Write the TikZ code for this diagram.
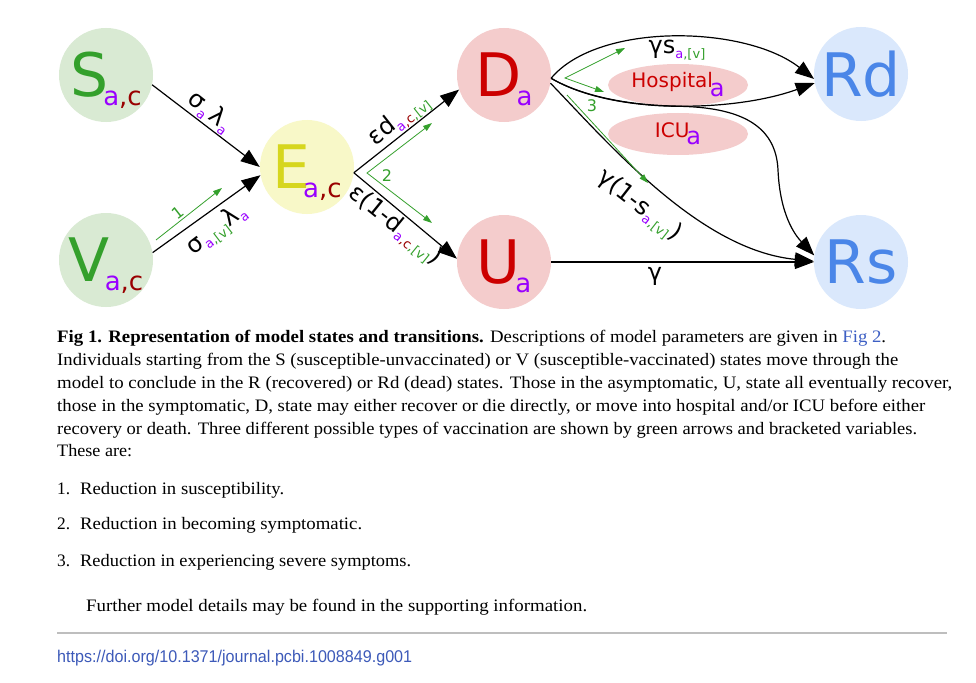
\documentclass[tikz,border=0pt]{standalone}
\usepackage{fontspec}
\usepackage{graphicx}
\usetikzlibrary{arrows.meta,shapes.geometric}
\setmainfont{Liberation Serif}
\newfontfamily\dejavu{DejaVu Sans}
\newfontfamily\doifont{Liberation Sans}
\definecolor{sfill}{RGB}{217,234,211}
\definecolor{sgreen}{RGB}{52,160,44}
\definecolor{efill}{RGB}{248,248,200}
\definecolor{eyellow}{RGB}{214,214,30}
\definecolor{dfill}{RGB}{244,204,204}
\definecolor{dred}{RGB}{204,0,0}
\definecolor{rfill}{RGB}{218,232,252}
\definecolor{rblue}{RGB}{74,134,232}
\definecolor{subpurple}{RGB}{153,0,255}
\definecolor{subred}{RGB}{153,0,0}
\definecolor{vgreen}{RGB}{52,160,44}
\definecolor{linkblue}{RGB}{61,95,196}
\definecolor{doiblue}{RGB}{61,90,185}
\definecolor{rulegray}{RGB}{190,190,190}
\newcommand{\stlet}[1]{{\fontsize{60}{60}\selectfont #1}}
\newcommand{\stsub}[1]{\kern-5pt\smash{\raisebox{-9pt}{\fontsize{26}{26}\selectfont #1}}}
\newcommand{\ls}[1]{\raisebox{-5pt}{\fontsize{13}{13}\selectfont #1}}
\newcommand{\pa}{\textcolor{subpurple}{a}}
\newcommand{\pc}{\textcolor{subred}{,c}}
\newcommand{\gv}{\textcolor{vgreen}{,[v]}}
\begin{document}
\begin{tikzpicture}[x=1pt,y=-1pt,
  state/.style={circle, minimum size=94pt, inner sep=0pt, font=\dejavu},
  ell/.style={ellipse, minimum width=140pt, minimum height=42pt, inner sep=0pt, fill=dfill, text=dred, font=\dejavu\fontsize{20}{20}\selectfont},
  flow/.style={draw=black, line width=1.2pt, -{Triangle[length=19pt,width=14pt]}},
  vacc/.style={draw=vgreen, line width=0.8pt, -{Triangle[length=9pt,width=6pt]}},
  vacctwo/.style={draw=vgreen, line width=0.8pt, {Triangle[length=9pt,width=6pt]}-{Triangle[length=9pt,width=6pt]}},
  lab/.style={font=\dejavu\fontsize{24}{24}\selectfont, inner sep=0pt},
  glab/.style={font=\dejavu\fontsize{16}{16}\selectfont, text=vgreen, inner sep=0pt},
  captext/.style={anchor=base west, inner sep=0pt, font=\fontsize{17.5}{17.5}\selectfont}]
\useasboundingbox[fill=white] (0,0) rectangle (976,682);

% states
\node[state, fill=sfill, text=sgreen] (S) at (106,75) {\stlet{S}\stsub{\pa\pc}};
\node[state, fill=sfill, text=sgreen] (V) at (106,260) {\stlet{V}\stsub{\pa\pc}};
\node[state, fill=efill, text=eyellow] (E) at (307,167) {\stlet{E}\kern-2pt\stsub{\pa\pc}};
\node[state, fill=dfill, text=dred] (D) at (504,75) {\stlet{D}\stsub{\pa}};
\node[state, fill=dfill, text=dred] (U) at (504,262) {\stlet{U}\stsub{\pa}};
\node[state, fill=rfill, text=rblue] (Rd) at (861,74) {\stlet{Rd}};
\node[state, fill=rfill, text=rblue] (Rs) at (861,262) {\stlet{Rs}};
\node[ell] (hosp) at (678,85) {Hospital\kern-3pt\raisebox{-9pt}{\textcolor{subpurple}{\fontsize{24}{24}\selectfont a}}};
\node[ell] (icu) at (678,134) {ICU\kern-3pt\raisebox{-7pt}{\textcolor{subpurple}{\fontsize{24}{24}\selectfont a}}};

% flows
\draw[flow] (S.-12) -- (E.180);
\draw[flow] (V.9) -- (E.190);
\draw[flow] (E.-7) -- (D.198);
\draw[flow] (E.-7) -- (U.176);
\draw[flow] (D.-4) .. controls (598,22) and (745,25) .. (Rd.186);
\draw[flow] (D.-4) .. controls (615,115) and (735,112) .. (Rd.191);
\draw[flow] (D.-4) .. controls (582,96.5) and (628.5,105.75) .. (676.75,106.25)
  .. controls (740,107) and (776,125) .. (778,170)
  .. controls (780,215) and (795,235) .. (Rs.172);
\draw[flow] (D.-10) .. controls (610,145) and (700,250) .. (Rs.179);
\draw[flow] (U.east) -- (Rs.west);

% vaccination arrows
\coordinate (g1s) at (156,240);
\coordinate (g1e) at (222,188);
\coordinate (g2a) at (432,123);
\coordinate (g2m) at (367,173);
\coordinate (g2b) at (432,223);
\coordinate (gda) at (625,48);
\coordinate (gdm) at (565,78);
\coordinate (gdb) at (604,92);
\coordinate (g3s) at (567,95);
\coordinate (g3e) at (648,183);
\draw[vacc] (g1s) -- (g1e);
\draw[vacctwo] (g2a) -- (g2m) -- (g2b);
\draw[vacctwo] (gda) -- (gdm) -- (gdb);
\draw[vacc] (g3s) -- (g3e);
\node[glab, rotate=38] (n1) at (178,213) {1};
\node[glab] (n2) at (387,176) {2};
\node[glab] (n3) at (592,106) {3};

% flow labels
\node[lab, rotate=-38.7] (lSE) at (210,112) {σ\ls{\pa}\,λ\ls{\pa}};
\node[lab, rotate=37.4] (lVE) at (217,230) {σ\ls{\pa\gv}λ\ls{\pa}};
\node[lab, rotate=38.3] (lED) at (399,120) {εd\ls{\pa\pc\gv}};
\node[lab, rotate=-39] (lEU) at (395,226) {ε(1-d\ls{\pa\pc\gv})};
\node[lab] (lRd) at (677,50) {γs\ls{\pa\gv}};
\node[lab, rotate=-38] (lRs) at (639,206) {γ(1-s\ls{\pa\gv})};
\node[lab] (lU) at (655,276) {γ};

% caption
\node[captext] (c1) at (57,342) {\resizebox{829pt}{\height}{\textbf{Fig 1. Representation of model states and transitions.} Descriptions of model parameters are given in \textcolor{linkblue}{Fig 2}.}};
\node[captext] (c2) at (57,365) {\resizebox{841pt}{\height}{Individuals starting from the S (susceptible-unvaccinated) or V (susceptible-vaccinated) states move through the}};
\node[captext] (c3) at (57,388) {\resizebox{895pt}{\height}{model to conclude in the R (recovered) or Rd (dead) states. Those in the asymptomatic, U, state all eventually recover,}};
\node[captext] (c4) at (57,411) {\resizebox{868pt}{\height}{those in the symptomatic, D, state may either recover or die directly, or move into hospital and/or ICU before either}};
\node[captext] (c5) at (57,434) {\resizebox{860pt}{\height}{recovery or death. Three different possible types of vaccination are shown by green arrows and bracketed variables.}};
\node[captext] (c6) at (57,456) {\resizebox{75pt}{\height}{These are:}};
\node[captext] (i1n) at (57,494) {\resizebox{13pt}{\height}{1.}};
\node[captext] (i1) at (80,494) {\resizebox{204pt}{\height}{Reduction in susceptibility.}};
\node[captext] (i2n) at (57,529) {\resizebox{13pt}{\height}{2.}};
\node[captext] (i2) at (80,529) {\resizebox{282pt}{\height}{Reduction in becoming symptomatic.}};
\node[captext] (i3n) at (57,566) {\resizebox{13pt}{\height}{3.}};
\node[captext] (i3) at (80,566) {\resizebox{331pt}{\height}{Reduction in experiencing severe symptoms.}};
\node[captext] (fur) at (86,611) {\resizebox{501pt}{\height}{Further model details may be found in the supporting information.}};
\draw[rulegray, line width=1.5pt] (57,633) -- (947,633);
\node[anchor=base west, inner sep=0pt, text=doiblue, font=\doifont\fontsize{17}{17}\selectfont] (doi) at (57,662) {\resizebox{355pt}{\height}{https://doi.org/10.1371/journal.pcbi.1008849.g001}};
\end{tikzpicture}
\end{document}
